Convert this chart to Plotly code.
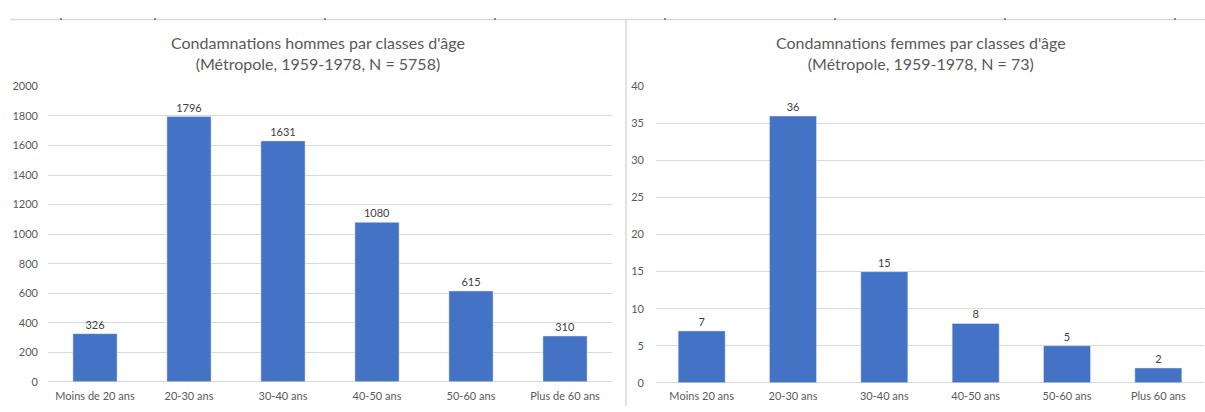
import plotly.graph_objects as go

W, H = 1205, 412

men_categories = ["Moins de 20 ans", "20-30 ans", "30-40 ans", "40-50 ans", "50-60 ans", "Plus de 60 ans"]
men_values = [326, 1796, 1631, 1080, 615, 310]
men_title = "Condamnations hommes par classes d'âge<br>(Métropole, 1959-1978, N = 5758)"
men_yticks = [0, 200, 400, 600, 800, 1000, 1200, 1400, 1600, 1800, 2000]

women_categories = ["Moins 20 ans", "20-30 ans", "30-40 ans", "40-50 ans", "50-60 ans", "Plus 60 ans"]
women_values = [7, 36, 15, 8, 5, 2]
women_title = "Condamnations femmes par classes d'âge<br>(Métropole, 1959-1978, N = 73)"
women_yticks = [0, 5, 10, 15, 20, 25, 30, 35, 40]

BAR = "#4472C4"
GRID = "#d9d9d9"
TXT = "#595959"
FONT = "Lato"

def px(x):
    return x / W

def py(y):
    return 1 - y / H

fig = go.Figure()
fig.add_trace(go.Bar(x=men_categories, y=men_values, text=men_values, textposition="outside",
                     textfont=dict(size=11, color="#404040", family=FONT), marker_color=BAR,
                     width=0.47, cliponaxis=False, xaxis="x", yaxis="y", showlegend=False))
fig.add_trace(go.Bar(x=women_categories, y=women_values, text=women_values, textposition="outside",
                     textfont=dict(size=11, color="#404040", family=FONT), marker_color=BAR,
                     width=0.515, cliponaxis=False, xaxis="x2", yaxis="y2", showlegend=False))

axis_common = dict(showline=False, ticks="", tickfont=dict(size=11, color=TXT, family=FONT), fixedrange=True)

fig.update_layout(
    width=W, height=H,
    margin=dict(l=0, r=0, t=0, b=0),
    paper_bgcolor="white", plot_bgcolor="white",
    font=dict(family=FONT, color=TXT),
    xaxis=dict(domain=[px(48), px(612)], anchor="y", showgrid=False, zeroline=False,
               ticklabelstandoff=6, **axis_common),
    yaxis=dict(domain=[py(387), py(82)], anchor="x", range=[0, 2000], tickvals=men_yticks,
               showgrid=True, gridcolor=GRID, gridwidth=1, zeroline=True, zerolinecolor=GRID,
               zerolinewidth=1, ticklabelstandoff=9, **axis_common),
    xaxis2=dict(domain=[px(656), px(1204)], anchor="y2", showgrid=False, zeroline=False,
                ticklabelstandoff=5, **axis_common),
    yaxis2=dict(domain=[py(388), py(82)], anchor="x2", range=[0, 40], tickvals=women_yticks,
                showgrid=True, gridcolor=GRID, gridwidth=1, zeroline=True, zerolinecolor=GRID,
                zerolinewidth=1, ticklabelstandoff=11, **axis_common),
    annotations=[
        dict(text=men_title, x=px(318), y=py(47), xref="paper", yref="paper", showarrow=False,
             font=dict(size=16, color=TXT, family=FONT), xanchor="center", yanchor="middle"),
        dict(text=women_title, x=px(921), y=py(47), xref="paper", yref="paper", showarrow=False,
             font=dict(size=16, color=TXT, family=FONT), xanchor="center", yanchor="middle"),
    ],
)

shapes = [
    dict(type="line", xref="paper", yref="paper", x0=px(10), x1=1, y0=py(13), y1=py(13),
         line=dict(color=GRID, width=1.5)),
    dict(type="line", xref="paper", yref="paper", x0=px(626), x1=px(626), y0=py(13), y1=0,
         line=dict(color=GRID, width=1.5)),
]
for tx in [61, 155, 325, 495, 665, 835, 1005, 1175]:
    shapes.append(dict(type="line", xref="paper", yref="paper", x0=px(tx - 1), x1=px(tx + 1),
                       y0=py(12.5), y1=py(12.5), line=dict(color="#666666", width=1.5)))
fig.update_layout(shapes=shapes)

post = (
    "document.documentElement.style.margin='0';"
    "document.documentElement.style.overflow='hidden';"
    "document.body.style.margin='0';"
    "document.body.style.overflow='hidden';"
)

fig.write_html("out.html", config={"displayModeBar": False, "staticPlot": True}, post_script=post)
